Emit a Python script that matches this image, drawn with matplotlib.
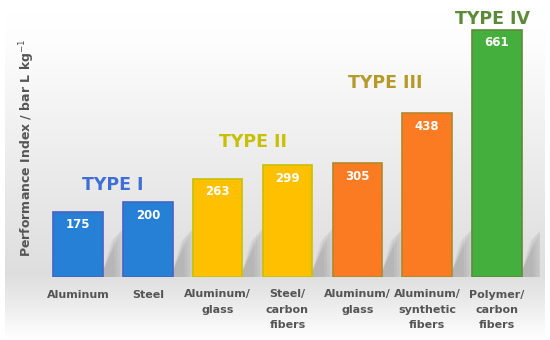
import matplotlib.pyplot as plt
import numpy as np
from matplotlib.colors import LinearSegmentedColormap

categories = ['Aluminum', 'Steel', 'Aluminum/\nglass', 'Steel/\ncarbon\nfibers',
              'Aluminum/\nglass', 'Aluminum/\nsynthetic\nfibers', 'Polymer/\ncarbon\nfibers']
values = [175, 200, 263, 299, 305, 438, 661]
bar_colors = ['#2580d6', '#2580d6', '#ffc000', '#ffc000', '#fb7b22', '#fb7b22', '#45af3d']
edge_colors = ['#4a62c4', '#4a62c4', '#c7c000', '#c7c000', '#b0882c', '#b0882c', '#5f8a3c']

type_names = ['TYPE I', 'TYPE II', 'TYPE III', 'TYPE IV']
type_pos = [0.5, 2.5, 4.4, 5.93]
type_y = [245, 360, 520, 690]
type_colors = ['#3f6fd6', '#c8c000', '#b59a2a', '#5b8a38']

fig = plt.figure(figsize=(5.5, 3.4), dpi=100)

# background gradient panel: white at top, grey near the bar bases, white again below
bg = fig.add_axes([5/550, 0, 540/550, 330/340])
bg.axis('off')
cmap = LinearSegmentedColormap.from_list('g', ['#d6d6d6', '#ffffff'])
t = np.linspace(0, 1, 300)
shade = np.interp(t, [0, 0.1, 0.45, 0.8, 0.86, 1.0], [1.0, 0.95, 0.55, 0.2, 0.4, 1.0])
bg.imshow(shade[:, None] * np.ones((1, 50)), aspect='auto', cmap=cmap, vmin=0, vmax=1,
          extent=[0, 1, 0, 1], origin='upper', interpolation='bilinear')
bg.set_xlim(0, 1)
bg.set_ylim(0, 1)

ax = fig.add_axes([40/550, 63/340, 500/550, 267/340])
ax.patch.set_alpha(0)
x = np.arange(len(values))

# soft diagonal shadows cast to the right of each bar
for xi in x:
    r = xi + 0.355
    for k in range(5):
        grow = 0.04 * k
        ax.fill([r, r, r + 0.12 + grow, r + 0.17 + grow, r + 0.17 + grow],
                [0, 15, 95 + 8 * k, 105 + 8 * k, 0],
                color='#7a7a7a', alpha=0.09, lw=0, zorder=1)

ax.bar(x, values, width=0.71, color=bar_colors, edgecolor=edge_colors, linewidth=1.2, zorder=2)

for xi, v in zip(x, values):
    ax.text(xi, v - 35, str(v), ha='center', va='center', color='white',
            fontsize=8.5, fontweight='bold', zorder=3)

for name, px, py, c in zip(type_names, type_pos, type_y, type_colors):
    ax.text(px, py, name, ha='center', va='center', color=c, fontsize=12.5,
            fontweight='heavy', zorder=3)

ax.set_xlim(-0.544, 6.616)
ax.set_ylim(0, 714)
ax.set_xticks(x)
ax.set_xticklabels(categories, fontsize=8, fontweight='bold', color='#555555', linespacing=1.65)
ax.tick_params(axis='x', length=0, pad=9)
ax.set_yticks([])
for s in ax.spines.values():
    s.set_visible(False)

fig.text(27/550, 192/340, 'Performance Index / bar L kg$^{-1}$', rotation=90,
         ha='center', va='center', fontsize=9, fontweight='bold', color='#555555')

fig.savefig('out.png', dpi=100)
